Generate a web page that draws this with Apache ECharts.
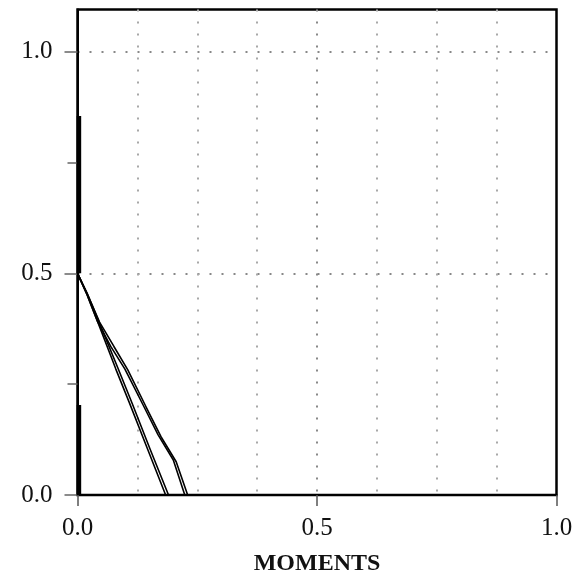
<!DOCTYPE html>
<html><head><meta charset="utf-8">
<script src="https://cdn.jsdelivr.net/npm/echarts@6/dist/echarts.min.js"></script>
<style>html,body{margin:0;padding:0;background:#fff}#c{width:576px;height:577px}</style>
</head><body><div id="c"></div>
<script>
// ---- data ----
const xTickValues = [0, 0.5, 1.0];
const yTickValues = [0, 0.5, 1.0];
const yMinorTickValues = [0.25, 0.75];
const xAxisName = 'MOMENTS';
const wallUpper = [[0.003, 0.5], [0.003, 0.855]];
const wallLower = [[0.003, 0], [0.003, 0.203]];
const curveA1 = [[0, 0.5], [0.02, 0.455], [0.045, 0.39], [0.086, 0.282], [0.114, 0.207], [0.151, 0.105], [0.19, 0]];
const curveA2 = [[0, 0.5], [0.02, 0.452], [0.042, 0.391], [0.08, 0.284], [0.108, 0.209], [0.145, 0.107], [0.184, 0]];
const curveB1 = [[0, 0.5], [0.02, 0.455], [0.046, 0.39], [0.076, 0.335], [0.105, 0.282], [0.143, 0.199], [0.174, 0.132], [0.206, 0.075], [0.23, 0]];
const curveB2 = [[0, 0.5], [0.02, 0.452], [0.042, 0.391], [0.07, 0.334], [0.099, 0.284], [0.137, 0.203], [0.168, 0.136], [0.2, 0.079], [0.224, 0]];

const chart = echarts.init(document.getElementById('c'), null, {renderer: 'canvas'});
const serif = '"Liberation Serif", "DejaVu Serif", serif';
const fmt = v => Number(v).toFixed(1);
function lineSeries(data, width, clip) {
  return {type: 'line', data: data, symbol: 'none', clip: clip,
    lineStyle: {color: '#000', width: width}, silent: true, z: 3};
}
const dotted = (c) => ({color: c, width: 2, type: [2, 10]});
chart.setOption({
  animation: false,
  backgroundColor: '#fff',
  grid: {left: 77.5, right: 19.5, top: 9.5, bottom: 82, outerBoundsMode: 'none', containLabel: false,
    show: true, borderColor: '#000', borderWidth: 2.5, backgroundColor: 'transparent'},
  xAxis: {
    type: 'value', min: 0, max: 1, interval: 0.5,
    name: xAxisName, nameLocation: 'middle', nameGap: 57,
    nameTextStyle: {fontFamily: serif, fontWeight: 'bold', fontSize: 24, color: '#111'},
    axisLine: {show: true, onZero: false, lineStyle: {color: '#000', width: 2}},
    axisTick: {show: true, length: 11, customValues: xTickValues, lineStyle: {color: '#555', width: 1.5}},
    axisLabel: {customValues: xTickValues, formatter: fmt, margin: 21, fontFamily: serif, fontSize: 25, color: '#111'},
    splitLine: {show: true, showMinLine: false, showMaxLine: false, lineStyle: dotted('#888')},
    minorTick: {show: false, splitNumber: 4},
    minorSplitLine: {show: true, lineStyle: dotted('#a8a8a8')}
  },
  yAxis: [{
    type: 'value', min: 0, max: 1.095, interval: 0.5, position: 'left',
    axisLine: {show: true, onZero: false, lineStyle: {color: '#000', width: 2}},
    axisTick: {show: true, length: 13, customValues: yTickValues, lineStyle: {color: '#666', width: 1.5}},
    axisLabel: {customValues: yTickValues, formatter: fmt, margin: 25, fontFamily: serif, fontSize: 25, color: '#111', padding: [9, 0, 0, 0]},
    splitLine: {show: true, showMinLine: false, lineStyle: dotted('#888')}
  }, {
    type: 'value', min: 0, max: 1.095, position: 'left', offset: 0,
    axisLine: {show: false},
    axisTick: {show: true, length: 10, customValues: yMinorTickValues, lineStyle: {color: '#666', width: 1.5}},
    axisLabel: {show: false},
    splitLine: {show: false}
  }],
  series: [
    lineSeries(wallUpper, 4.5, false),
    lineSeries(wallLower, 4.5, false),
    lineSeries(curveA1, 1.6, true),
    lineSeries(curveA2, 1.6, true),
    lineSeries(curveB1, 1.6, true),
    lineSeries(curveB2, 1.6, true)
  ]
});
</script>
</body></html>
